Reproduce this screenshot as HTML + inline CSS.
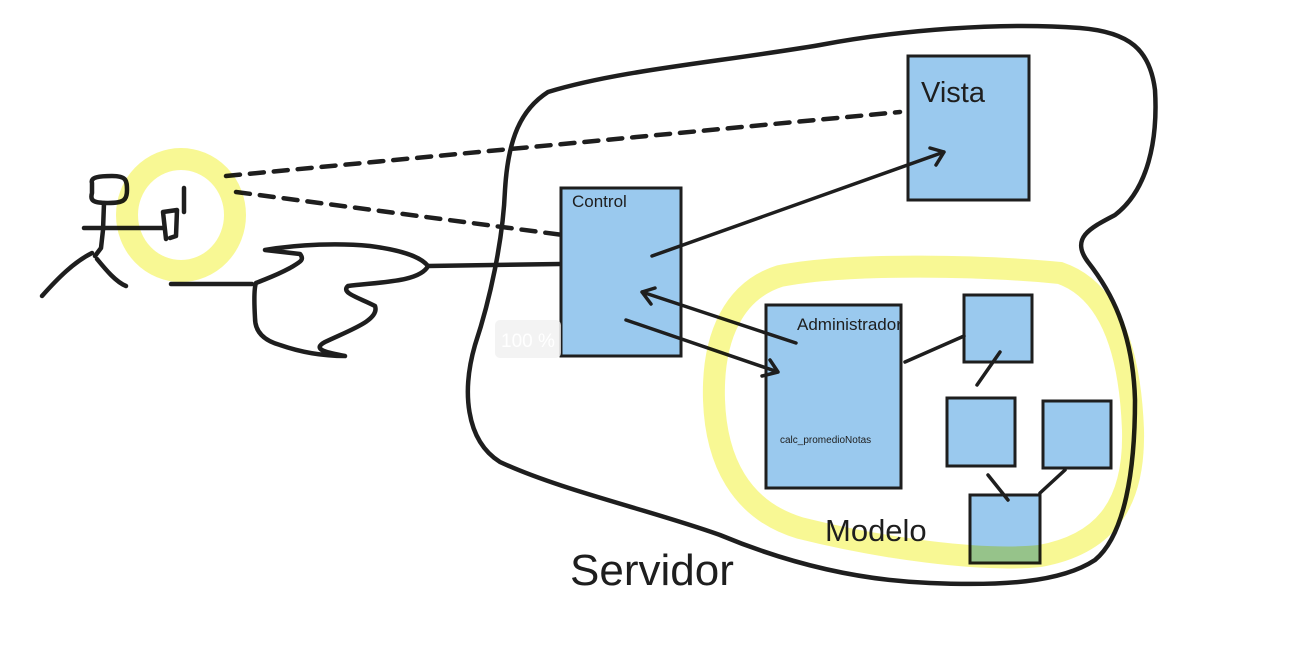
<!DOCTYPE html>
<html><head><meta charset="utf-8"><style>
html,body{margin:0;padding:0;background:#fff;}
svg{display:block;}
text{font-family:"Liberation Sans",sans-serif;fill:#1e1e1e;}
</style></head><body>
<svg width="1308" height="656" viewBox="0 0 1308 656" xmlns="http://www.w3.org/2000/svg">
<g fill="none" stroke="#1e1e1e" stroke-width="4.5" stroke-linecap="round" stroke-linejoin="round">
<path d="M548,92 C520,110 508,140 505,190 C503,240 490,300 475,345 C462,390 465,440 500,462 C560,490 650,510 720,535 C780,560 850,580 930,583 C1000,586 1060,583 1095,560 C1125,535 1135,470 1135,400 C1133,330 1110,290 1088,262 C1070,238 1090,228 1115,215 C1148,190 1158,140 1155,90 C1150,50 1130,32 1080,28 C1000,22 900,30 820,45 C720,62 620,70 548,92 Z"/>
<path d="M92,183 C90,177 100,176 112,176 C126,176 127,180 127,190 C127,200 124,203 108,203 C92,203 90,200 92,193 Z"/>
<path d="M104,203 L103,230 L101,248 L95,256"/>
<path d="M84,228 L163,228"/>
<path d="M42,296 C58,278 74,262 92,253"/>
<path d="M97,259 C106,270 116,282 126,286"/>
<path d="M163,212 L177,210 L176,236 L170,238 M163,212 L166,239 M184,188 L184,212"/>
<path d="M226,176 L900,112" stroke-dasharray="14,10"/>
<path d="M236,192 L578,237" stroke-dasharray="14,10"/>
<path d="M171,284 L252,284"/>
<path d="M265,250 C300,244 340,243 370,246 C400,250 420,256 428,266 C420,282 380,282 348,286 C340,293 360,298 375,306 C380,320 350,330 325,342 C310,350 330,353 345,356 C320,356 300,352 280,345 C262,340 255,330 255,318 C254,300 254,288 256,283 C268,278 275,276 290,268 C300,262 305,260 300,254 Z"/>
<path d="M428,266 L560,264"/>
</g>
<g fill="#9ac9ee" stroke="#1e1e1e" stroke-width="3">
<rect x="908" y="56" width="121" height="144"/>
<rect x="561" y="188" width="120" height="168"/>
<rect x="766" y="305" width="135" height="183"/>
<rect x="964" y="295" width="68" height="67"/>
<rect x="947" y="398" width="68" height="68"/>
<rect x="1043" y="401" width="68" height="67"/>
<rect x="970" y="495" width="70" height="68"/>
</g>
<g fill="none" stroke="#1e1e1e" stroke-width="3.5" stroke-linecap="round" stroke-linejoin="round">
<path d="M652,256 L944,152 M930,148 L944,152 L936,165"/>
<path d="M796,343 L642,292 M655,288 L642,292 L651,304"/>
<path d="M626,320 L778,372 M762,376 L778,372 L770,360"/>
<path d="M905,362 L964,336"/>
<path d="M1000,352 L977,385"/>
<path d="M988,475 L1008,500"/>
<path d="M1040,493 L1065,470"/>
</g>
<g fill="none" stroke="#f5f566" stroke-opacity="0.7" stroke-width="22" style="mix-blend-mode:multiply">
<ellipse cx="181" cy="215" rx="54" ry="56"/>
<path d="M780,276 C850,262 990,266 1060,273 C1110,290 1130,350 1133,430 C1135,510 1100,545 1040,556 C980,562 880,548 800,528 C740,510 716,460 714,400 C712,335 735,290 780,276 Z"/>
</g>
<rect x="495" y="320" width="66" height="38" rx="5" fill="#f0f0f0" opacity="0.8"/>
<text x="501" y="347" font-size="19" style="fill:#ffffff">100 %</text>
<text x="921" y="102" font-size="29">Vista</text>
<text x="572" y="207" font-size="17">Control</text>
<text x="797" y="330" font-size="17">Administrador</text>
<text x="780" y="443" font-size="10">calc_promedioNotas</text>
<text x="825" y="541" font-size="31">Modelo</text>
<text x="570" y="585" font-size="44">Servidor</text>
</svg>
</body></html>
